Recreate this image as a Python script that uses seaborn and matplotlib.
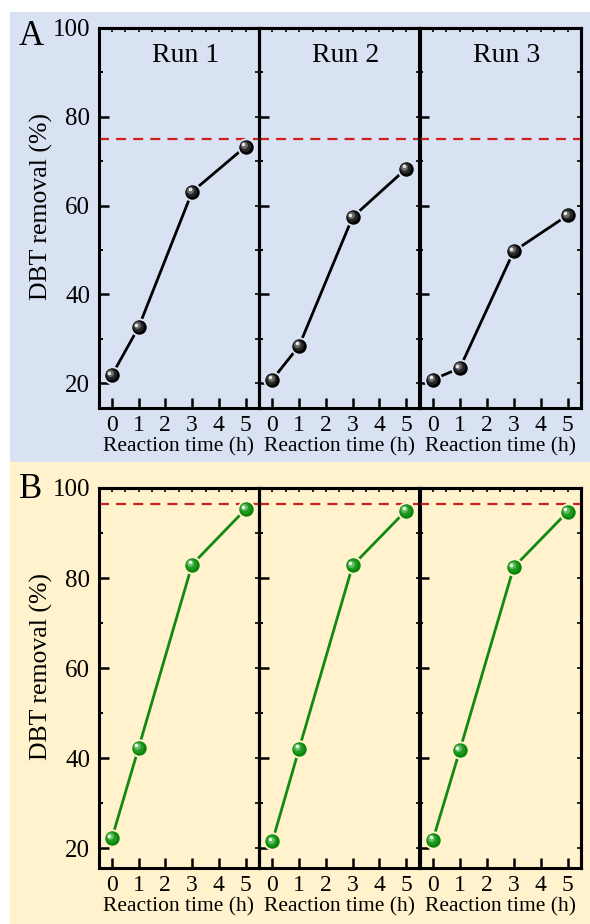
import numpy as np
import pandas as pd
import matplotlib
matplotlib.use("Agg")
import matplotlib.pyplot as plt
import matplotlib.transforms as mtransforms
from matplotlib.patches import Rectangle
from matplotlib.ticker import MultipleLocator, FixedLocator
import seaborn as sns

# ---- data -------------------------------------------------------------
time_h = [0, 1, 3, 5]
run_names = ["Run 1", "Run 2", "Run 3"]

# (A) black catalyst
removal_a_run1 = [21.8, 32.6, 63.1, 73.3]
removal_a_run2 = [20.8, 28.4, 57.4, 68.3]
removal_a_run3 = [20.8, 23.4, 49.7, 57.8]
reference_a = 75.0

# (B) green catalyst
removal_b_run1 = [22.2, 42.3, 83.0, 95.3]
removal_b_run2 = [21.5, 42.1, 82.8, 95.0]
removal_b_run3 = [21.9, 41.8, 82.4, 94.7]
reference_b = 96.4

y_ticks = [20, 40, 60, 80, 100]
x_ticks = [0, 1, 2, 3, 4, 5]

# ---- style ------------------------------------------------------------
sns.set_theme(style="ticks")
plt.rcParams["font.family"] = ["Liberation Serif", "DejaVu Serif"]
plt.rcParams["axes.linewidth"] = 2.2
for key in ("text.color", "axes.labelcolor", "xtick.color", "ytick.color",
            "xtick.labelcolor", "ytick.labelcolor"):
    plt.rcParams[key] = "black"

W, H = 590, 924
fig = plt.figure(figsize=(W / 100, H / 100), dpi=100)

bg_a = "#d9e2f3"
bg_b = "#fff2cc"
fig.patches.append(Rectangle((10 / W, 1 - 462 / H), 580 / W, 450 / H,
                             transform=fig.transFigure, facecolor=bg_a,
                             edgecolor="none", zorder=-10))
fig.patches.append(Rectangle((10 / W, 0), 580 / W, 1 - 462 / H,
                             transform=fig.transFigure, facecolor=bg_b,
                             edgecolor="none", zorder=-10))


def box(left, top, right, bottom):
    return [left / W, 1 - bottom / H, (right - left) / W, (bottom - top) / H]


edges = [98.5, 259, 419.5, 581]


def shade_layers(ax, xs, ys, layers):
    # glossy sphere look: lighter, smaller discs nudged up-left
    for d_px, col, off_px in layers:
        tr = ax.transData + mtransforms.ScaledTranslation(
            -off_px / 100, off_px / 100, fig.dpi_scale_trans)
        ax.scatter(xs, ys, s=(d_px * 0.72) ** 2, color=col, linewidths=0,
                   transform=tr, zorder=5, clip_on=False)


def draw_row(top, bottom, series, ref, line_col, ball_col, layers, bg, ymin,
             run_labels):
    axes = []
    for i, vals in enumerate(series):
        ax = fig.add_axes(box(edges[i], top, edges[i + 1], bottom))
        ax.set_facecolor("none")
        df = pd.DataFrame({"time": time_h, "removal": vals})
        ax.axhline(ref, color="#d0201c", lw=1.6, ls=(0, (4.5, 3.2)), zorder=1)
        sns.lineplot(data=df, x="time", y="removal", ax=ax, color=line_col,
                     lw=2.0, marker="o", markersize=11.8,
                     markerfacecolor=ball_col, markeredgecolor=bg,
                     markeredgewidth=1.4, zorder=3, clip_on=False)
        shade_layers(ax, df["time"], df["removal"], layers)

        ax.set_xlim(-0.5, 5.5)
        ax.set_ylim(ymin, 100)
        ax.xaxis.set_major_locator(FixedLocator(x_ticks))
        ax.yaxis.set_major_locator(FixedLocator(y_ticks))
        ax.yaxis.set_minor_locator(MultipleLocator(10))
        ax.tick_params(axis="both", which="both", direction="in",
                       top=False, right=False, color="black",
                       labelcolor="black")
        ax.tick_params(axis="x", which="major", length=7, width=1.8,
                       labelsize=17, pad=5)
        ax.tick_params(axis="y", which="major", length=7, width=1.8,
                       labelsize=18, pad=6)
        ax.tick_params(axis="y", which="minor", length=3, width=1.4)
        ax.set_xlabel("Reaction time (h)", fontsize=15.5, labelpad=1,
                      color="black")
        ax.set_ylabel("")
        if i > 0:
            ax.tick_params(axis="y", labelleft=False)

        # small mirrored ticks on the top and right edges
        sx = ax.secondary_xaxis("top")
        sx.set_xticks(np.arange(-0.5, 5.51, 0.5))
        sx.tick_params(direction="in", length=3, width=1.2, labeltop=False,
                       color="black")
        sy = ax.secondary_yaxis("right")
        sy.set_yticks(np.arange(20, 100.1, 10))
        sy.tick_params(direction="in", length=3, width=1.2, labelright=False,
                       color="black")
        for s in list(ax.spines.values()) + list(sx.spines.values()) + \
                list(sy.spines.values()):
            s.set_linewidth(2.2)
            s.set_color("black")

        if run_labels:
            ax.text(0.54, 0.91, run_names[i], transform=ax.transAxes,
                    ha="center", va="baseline", fontsize=20, color="black")
        axes.append(ax)
    return axes


black_layers = [(11, "#262626", 1.0), (7, "#6a6a6a", 1.8), (3.5, "#e6e6e6", 2.4)]
green_layers = [(11, "#1f9a1f", 1.0), (7, "#62bd62", 1.8), (3.5, "#eaf7ea", 2.4)]

draw_row(28, 408, [removal_a_run1, removal_a_run2, removal_a_run3],
         reference_a, "black", "black", black_layers, bg_a, 14.4, True)
draw_row(488, 868, [removal_b_run1, removal_b_run2, removal_b_run3],
         reference_b, "#118a11", "#0b860b", green_layers, bg_b, 15.6, False)

fig.text(41 / W, 1 - 206 / H, "DBT removal (%)", rotation=90,
         ha="center", va="center", fontsize=18.5, color="black")
fig.text(41 / W, 1 - 667 / H, "DBT removal (%)", rotation=90,
         ha="center", va="center", fontsize=18.5, color="black")
fig.text(19 / W, 1 - 45 / H, "A", fontsize=25, va="baseline", color="black")
fig.text(19 / W, 1 - 498 / H, "B", fontsize=25, va="baseline", color="black")

fig.savefig("out.png", dpi=100)
